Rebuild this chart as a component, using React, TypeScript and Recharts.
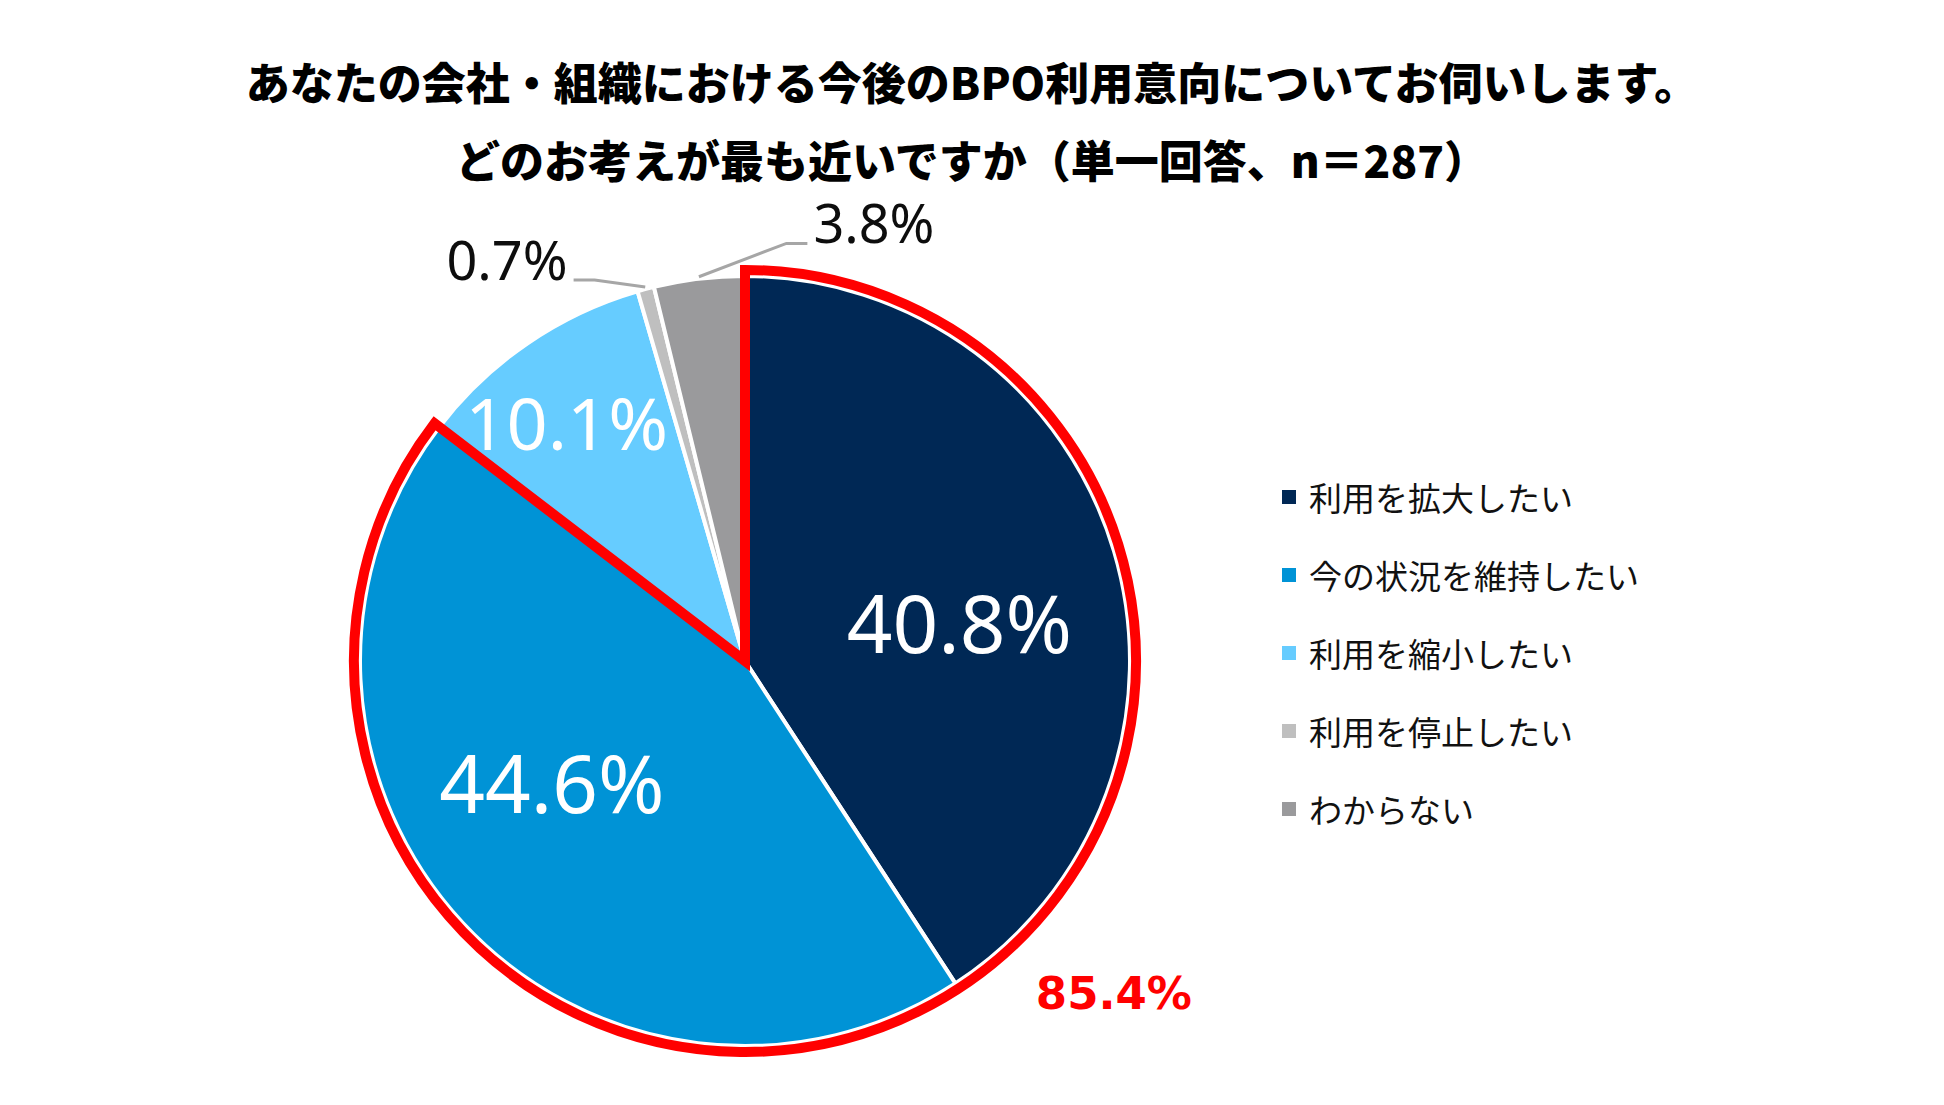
import React from 'react';
import { PieChart, Pie, Cell } from 'recharts';

const titleLines = [
  'あなたの会社・組織における今後のBPO利用意向についてお伺いします。',
  'どのお考えが最も近いですか（単一回答、n＝287）',
];
const categories = ['利用を拡大したい', '今の状況を維持したい', '利用を縮小したい', '利用を停止したい', 'わからない'];
const shares = [40.8, 44.6, 10.1, 0.7, 3.8];
// first two answers are outlined together in red
const highlightCount = 2;

const sliceColors = ['#002855', '#0093D6', '#66CCFF', '#BFBFBF', '#9A9A9C'];
const HIGHLIGHT = '#FF0000';

// where each data label sits: radius as a share of the pie radius, angle nudge in degrees
const labelPlacement = [
  { r: 0.565, shift: -6.8 },
  { r: 0.595, shift: -10.3 },
  { r: 0.77, shift: 2.6 },
  { r: 1.064, shift: 6.6 },
  { r: 1.09, shift: -12.5 },
];

const RAD = Math.PI / 180;
const NUM_FONT = "'Noto Sans', 'Open Sans', sans-serif";
const JP_FONT = "'Noto Sans CJK JP', 'Noto Sans', sans-serif";

const sliceData = categories.map((name, i) => ({ name, value: shares[i] }));
const highlightTotal = shares.slice(0, highlightCount).reduce((a, b) => a + b, 0);
const outlineData = [
  { name: 'highlight', value: highlightTotal },
  { name: 'rest', value: shares.slice(highlightCount).reduce((a, b) => a + b, 0) },
];

const polar = (cx: number, cy: number, r: number, deg: number) => ({
  x: cx + r * Math.cos(-deg * RAD),
  y: cy + r * Math.sin(-deg * RAD),
});

const renderSliceLabel = (props: any) => {
  const { cx, cy, midAngle, outerRadius, index } = props;
  const place = labelPlacement[index];
  const text = `${shares[index].toFixed(1)}%`;
  const p = polar(cx, cy, outerRadius * place.r, midAngle + place.shift);

  if (place.r < 1) {
    const size = shares[index] > 20 ? 80 : 72;
    return (
      <text x={p.x} y={p.y + size * 0.357} textAnchor="middle" fill="#FFFFFF" fontSize={size} fontFamily={NUM_FONT}>
        {text}
      </text>
    );
  }

  // outside label with a bent leader line
  const edge = polar(cx, cy, outerRadius + 2, midAngle);
  const toRight = p.x > cx;
  const endX = p.x + (toRight ? 21 : -21);
  return (
    <g>
      <polyline
        points={`${edge.x},${edge.y} ${p.x},${p.y} ${endX},${p.y}`}
        fill="none"
        stroke="#A6A6A6"
        strokeWidth={3}
      />
      <text
        x={endX + (toRight ? 6 : -6)}
        y={p.y}
        textAnchor={toRight ? 'start' : 'end'}
        fill="#0D0D0D"
        fontSize={54}
        fontFamily={NUM_FONT}
      >
        {text}
      </text>
    </g>
  );
};

const renderOutlineLabel = (props: any) => {
  const { cx, cy, midAngle, outerRadius, index } = props;
  if (index !== 0) return null;
  const p = polar(cx, cy, outerRadius * 1.27, midAngle + 21.7);
  return (
    <text
      x={p.x}
      y={p.y + 16}
      textAnchor="middle"
      fill={HIGHLIGHT}
      fontSize={45}
      fontWeight="bold"
      fontFamily="'DejaVu Sans', Verdana, sans-serif"
    >
      {`${highlightTotal.toFixed(1)}%`}
    </text>
  );
};

const App = () => {
  return (
    <div style={{ position: 'absolute', left: 0, top: 0, width: 1944, height: 1105, background: '#FFFFFF' }}>
      <div
        style={{
          position: 'absolute',
          left: 0,
          top: 42,
          width: 1944,
          textAlign: 'center',
          fontFamily: JP_FONT,
          fontWeight: 900,
          fontSize: 44,
          lineHeight: '78px',
          color: '#000000',
        }}
      >
        {titleLines.map((t) => (
          <div key={t}>{t}</div>
        ))}
      </div>

      <div style={{ position: 'absolute', left: 0, top: 0 }}>
        <PieChart width={1944} height={1105} margin={{ top: 0, right: 0, bottom: 0, left: 0 }}>
          <Pie
            data={sliceData}
            dataKey="value"
            nameKey="name"
            cx={745}
            cy={661}
            outerRadius={385}
            startAngle={90}
            endAngle={-270}
            stroke="#FFFFFF"
            strokeWidth={4}
            label={renderSliceLabel}
            labelLine={false}
            isAnimationActive={false}
          >
            {sliceData.map((d, i) => (
              <Cell key={d.name} fill={sliceColors[i]} />
            ))}
          </Pie>
          <Pie
            data={outlineData}
            dataKey="value"
            cx={745}
            cy={661}
            outerRadius={391}
            startAngle={90}
            endAngle={-270}
            label={renderOutlineLabel}
            labelLine={false}
            isAnimationActive={false}
          >
            {outlineData.map((d, i) => (
              <Cell
                key={d.name}
                fill="none"
                stroke={i === 0 ? HIGHLIGHT : 'none'}
                strokeWidth={i === 0 ? 10 : 0}
              />
            ))}
          </Pie>
        </PieChart>
      </div>

      <div style={{ position: 'absolute', left: 1282, top: 458, fontFamily: JP_FONT, fontSize: 33, color: '#111111' }}>
        {categories.map((c, i) => (
          <div key={c} style={{ display: 'flex', alignItems: 'center', height: 78 }}>
            <span style={{ display: 'inline-block', width: 14, height: 14, background: sliceColors[i], marginRight: 13 }} />
            <span>{c}</span>
          </div>
        ))}
      </div>
    </div>
  );
};

export default App;
